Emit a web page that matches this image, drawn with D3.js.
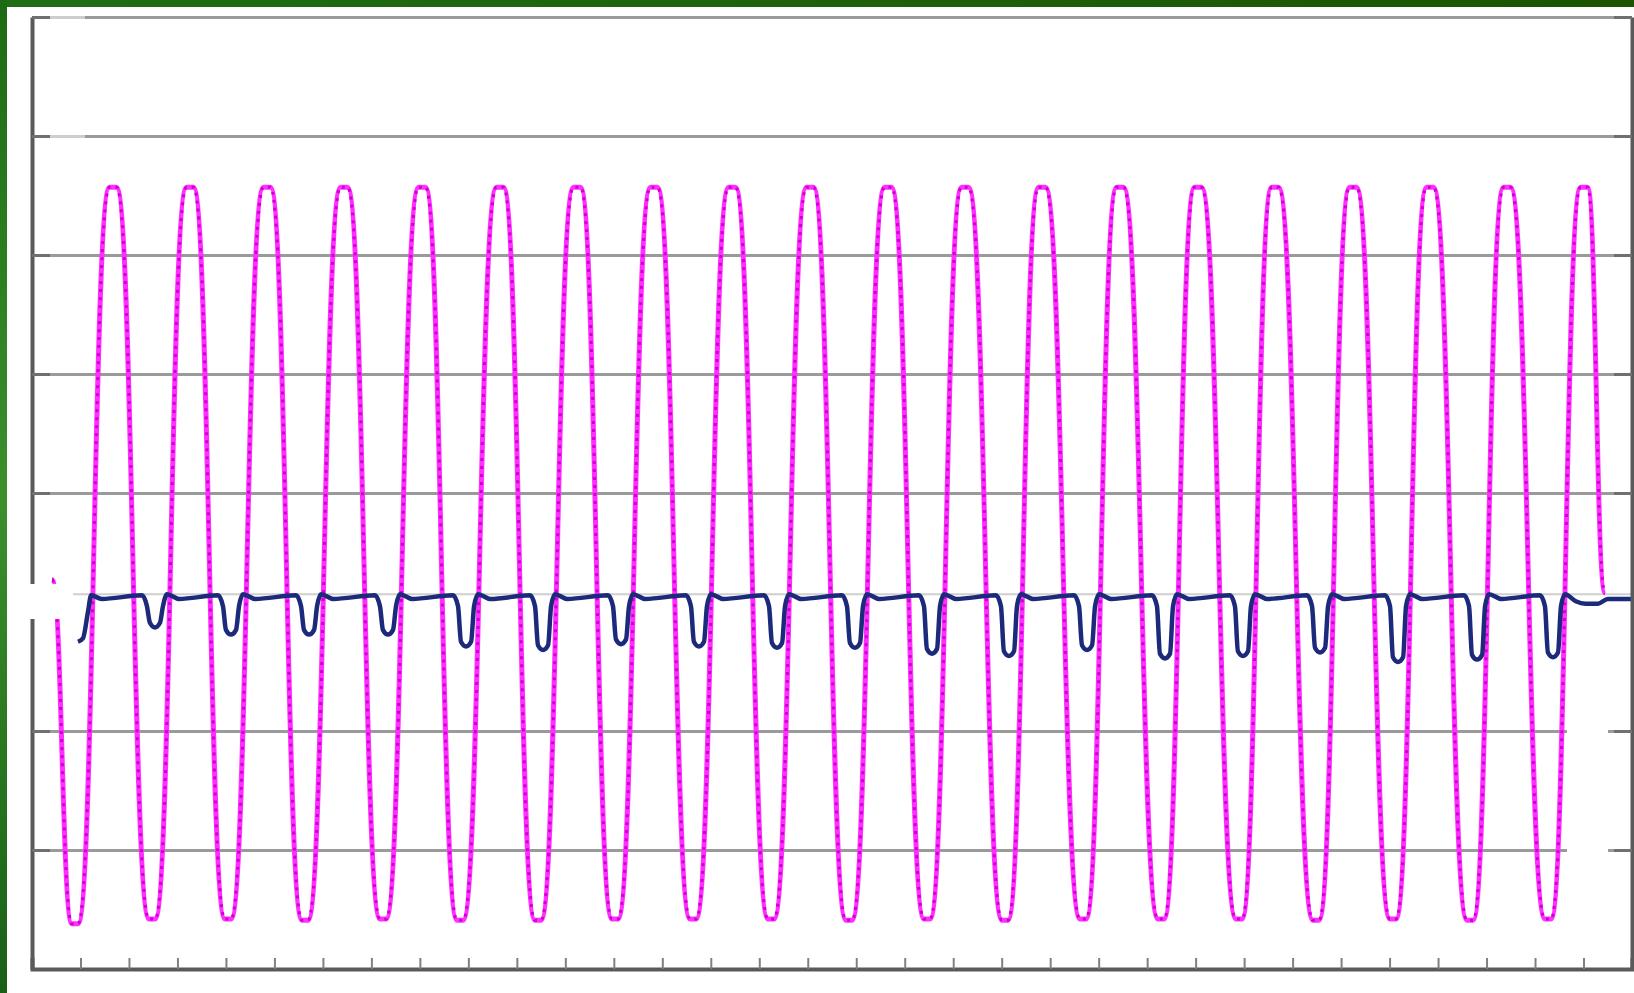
<!DOCTYPE html>
<html><head><meta charset="utf-8">
<script src="https://cdn.jsdelivr.net/npm/d3@7"></script>
<style>html,body{margin:0;padding:0;background:#fff;overflow:hidden}</style>
</head><body><svg id="c" width="1634" height="993"></svg>
<script>
// ---- data (x in ms, y in arbitrary units 0..800) ----
// magenta: start, then for every cycle the trough plateau (2 pts) and peak plateau (2 pts), end
const magX = [20.6,
  41.2, 47.4, 79.9, 87.1,
  120.7, 126.9, 159.3, 166.5,
  199.0, 205.2, 238.7, 245.9,
  278.4, 284.6, 318.2, 325.4,
  358.9, 365.1, 398.6, 405.8,
  438.3, 444.5, 479.0, 486.2,
  518.7, 524.9, 558.4, 565.6,
  598.1, 604.3, 637.8, 645.0,
  678.6, 684.8, 718.3, 725.5,
  759.0, 765.2, 798.7, 805.9,
  839.4, 845.6, 879.2, 886.4,
  919.9, 926.1, 958.6, 965.8,
  1000.3, 1006.5, 1038.0, 1045.2,
  1080.8, 1087.0, 1118.4, 1125.6,
  1161.2, 1167.4, 1198.8, 1206.0,
  1241.6, 1247.8, 1278.3, 1285.5,
  1321.0, 1327.2, 1358.7, 1365.9,
  1400.4, 1406.6, 1438.1, 1445.3,
  1479.9, 1486.1, 1517.5, 1524.7,
  1560.3, 1566.5, 1596.9, 1604.1,
  1622.2];
const magY = [327,
  38, 38, 657, 657,
  42, 42, 657, 657,
  42, 42, 657, 657,
  41, 41, 657, 657,
  42, 42, 657, 657,
  41, 41, 657, 657,
  41, 41, 657, 657,
  42, 42, 657, 657,
  42, 42, 657, 657,
  42, 42, 657, 657,
  41, 41, 657, 657,
  42, 42, 657, 657,
  41, 41, 657, 657,
  42, 42, 657, 657,
  42, 42, 657, 657,
  42, 42, 657, 657,
  41, 41, 657, 657,
  42, 42, 657, 657,
  41, 41, 657, 657,
  42, 42, 657, 657,
  316];

const blueX = [
  47.4, 52.6, 57.7, 61.0, 72.0,
  113.4, 118.5, 121.6, 126.8, 132.0, 135.1, 139.2, 151.6,
  191.8, 196.9, 200.0, 205.2, 210.4, 213.5, 217.6, 230.0,
  272.3, 277.4, 280.5, 285.7, 290.9, 294.0, 298.1, 310.5,
  353.7, 358.8, 361.9, 367.1, 372.3, 375.4, 379.5, 391.9,
  434.2, 439.3, 442.4, 447.6, 452.8, 455.9, 460.0, 472.4,
  513.6, 518.7, 521.8, 527.0, 532.2, 535.3, 539.4, 551.8,
  594.0, 599.1, 602.2, 607.4, 612.6, 615.7, 619.8, 632.2,
  674.4, 679.5, 682.6, 687.8, 693.0, 696.1, 700.2, 712.6,
  754.9, 760.0, 763.1, 768.3, 773.5, 776.6, 780.7, 793.1,
  835.3, 840.4, 843.5, 848.7, 853.9, 857.0, 861.1, 873.5,
  914.7, 919.8, 922.9, 928.1, 933.3, 936.4, 940.5, 952.9,
  994.1, 999.2, 1002.3, 1007.5, 1012.7, 1015.8, 1019.9, 1032.3,
  1074.6, 1079.7, 1082.8, 1088.0, 1093.2, 1096.3, 1100.4, 1112.8,
  1155.0, 1160.1, 1163.2, 1168.4, 1173.6, 1176.7, 1180.8, 1193.2,
  1235.4, 1240.5, 1243.6, 1248.8, 1254.0, 1257.1, 1261.2, 1273.6,
  1314.9, 1320.0, 1323.1, 1328.3, 1333.5, 1336.6, 1340.7, 1353.1,
  1395.3, 1400.4, 1403.5, 1408.7, 1413.9, 1417.0, 1421.1, 1433.5,
  1476.8, 1481.9, 1485.0, 1490.2, 1495.4, 1498.5, 1502.6, 1515.0,
  1555.1, 1560.2, 1563.3, 1568.5, 1573.7, 1576.8, 1580.9,
  1592, 1602, 1615, 1625, 1652
];
const blueY = [
  275, 278, 300, 314, 311,
  314, 305, 291, 287, 291, 305, 315, 311,
  314, 305, 285, 281, 285, 305, 315, 311,
  314, 305, 285, 281, 285, 305, 315, 311,
  314, 305, 285, 281, 285, 305, 315, 311,
  314, 305, 275, 271, 275, 305, 315, 311,
  314, 305, 272, 268, 272, 305, 315, 311,
  314, 305, 277, 273, 277, 305, 315, 311,
  314, 305, 275, 271, 275, 305, 315, 311,
  314, 305, 274, 270, 274, 305, 315, 311,
  314, 305, 274, 270, 274, 305, 315, 311,
  314, 305, 269, 265, 269, 305, 315, 311,
  314, 305, 267, 263, 267, 305, 315, 311,
  314, 305, 272, 268, 272, 305, 315, 311,
  314, 305, 265, 261, 265, 305, 315, 311,
  314, 305, 267, 263, 267, 305, 315, 311,
  314, 305, 270, 266, 270, 305, 315, 311,
  314, 305, 262, 258, 262, 305, 315, 311,
  314, 305, 264, 260, 264, 305, 315, 311,
  314, 305, 266, 262, 266, 305, 315,
  309, 307, 307, 311, 311
];

const gridValues = [100, 200, 400, 500, 600, 700, 800];
const refLevels = [315];
const axisTickValues = [100, 200, 400, 500, 600, 700, 800];
const xTickValues = d3.range(50, 1650, 50);

// ---- layout ----
const svg = d3.select("#c");
const W = 1634, H = 993;
const x = d3.scaleLinear().domain([0, 1650]).range([32, 1632]);
const y = d3.scaleLinear().domain([0, 800]).range([969, 17]);

svg.append("rect").attr("width", W).attr("height", H).attr("fill", "#fff");

// gridlines
const grid = svg.append("g").attr("transform", `translate(${x(0)},0)`)
  .call(d3.axisLeft(y).tickValues(gridValues).tickSize(-(x(1650) - x(0))).tickFormat(""));
grid.select(".domain").remove();
grid.selectAll(".tick line").attr("stroke", "#9a9a9a").attr("stroke-width", 3);

// faint reference line near blue baseline
svg.append("g").selectAll("line").data(refLevels).join("line")
  .attr("x1", x(42)).attr("x2", x(1652)).attr("y1", d => y(d)).attr("y2", d => y(d))
  .attr("stroke", "#cfcfcf").attr("stroke-width", 2);

// magenta series
const magData = magX.map((v, i) => [v, magY[i]]);
const magLine = d3.line().x(d => x(d[0])).y(d => y(d[1])).curve(d3.curveBumpX);
svg.append("path").datum(magData).attr("d", magLine)
  .attr("fill", "none").attr("stroke", "#ff30ff").attr("stroke-width", 5).attr("stroke-linejoin", "round");
svg.append("path").datum(magData).attr("d", magLine)
  .attr("fill", "none").attr("stroke", "#d000d0").attr("stroke-width", 3).attr("stroke-dasharray", "3 5");

// blue series
const blueData = blueX.map((v, i) => [v, blueY[i]]);
const blueLine = d3.line().x(d => x(d[0])).y(d => y(d[1])).curve(d3.curveMonotoneX);
svg.append("path").datum(blueData).attr("d", blueLine)
  .attr("fill", "none").attr("stroke", "#1b2a7a").attr("stroke-width", 4.5).attr("stroke-linejoin", "round");

// axes frame
const axCol = "#5a5a5a";
const gB = svg.append("g").attr("transform", `translate(0,${y(0)})`)
  .call(d3.axisBottom(x).tickValues(xTickValues).tickSize(-11).tickFormat(""));
gB.select(".domain").attr("stroke", axCol).attr("stroke-width", 4);
gB.selectAll(".tick line").attr("stroke", "#808080").attr("stroke-width", 2);

const gL = svg.append("g").attr("transform", `translate(${x(0)},0)`)
  .call(d3.axisLeft(y).tickValues(axisTickValues).tickSize(-18).tickSizeOuter(0).tickFormat(""));
gL.select(".domain").attr("stroke", axCol).attr("stroke-width", 4);
gL.selectAll(".tick line").attr("stroke", "#707070").attr("stroke-width", 3);

const gR = svg.append("g").attr("transform", `translate(${x(1650)},0)`)
  .call(d3.axisRight(y).tickValues(axisTickValues).tickSize(-18).tickSizeOuter(0).tickFormat(""));
gR.select(".domain").attr("stroke", axCol).attr("stroke-width", 4);
gR.selectAll(".tick line").attr("stroke", "#707070").attr("stroke-width", 3);

// white patches present in the picture
svg.append("rect").attr("x", 8).attr("y", 584).attr("width", 65).attr("height", 35).attr("fill", "#fff");
svg.append("rect").attr("x", 50).attr("y", 8).attr("width", 35).attr("height", 160).attr("fill", "#fff").attr("opacity", 0.5);
svg.append("rect").attr("x", 1567).attr("y", 700).attr("width", 41).attr("height", 180).attr("fill", "#fff");

// green border
const defs = svg.append("defs");
const gv = defs.append("linearGradient").attr("id", "gv").attr("x1", 0).attr("x2", 0).attr("y1", 0).attr("y2", 1);
gv.append("stop").attr("offset", "0%").attr("stop-color", "#1d6a14");
gv.append("stop").attr("offset", "50%").attr("stop-color", "#3b8f2c");
gv.append("stop").attr("offset", "100%").attr("stop-color", "#1a5f16");
const gh = defs.append("linearGradient").attr("id", "gh").attr("x1", 0).attr("x2", 1).attr("y1", 0).attr("y2", 0);
gh.append("stop").attr("offset", "0%").attr("stop-color", "#1f6e16");
gh.append("stop").attr("offset", "100%").attr("stop-color", "#1c5400");
svg.append("rect").attr("x", 0).attr("y", 0).attr("width", W).attr("height", 7).attr("fill", "url(#gh)");
svg.append("rect").attr("x", 0).attr("y", 0).attr("width", 7).attr("height", H).attr("fill", "url(#gv)");
</script>
</body></html>
